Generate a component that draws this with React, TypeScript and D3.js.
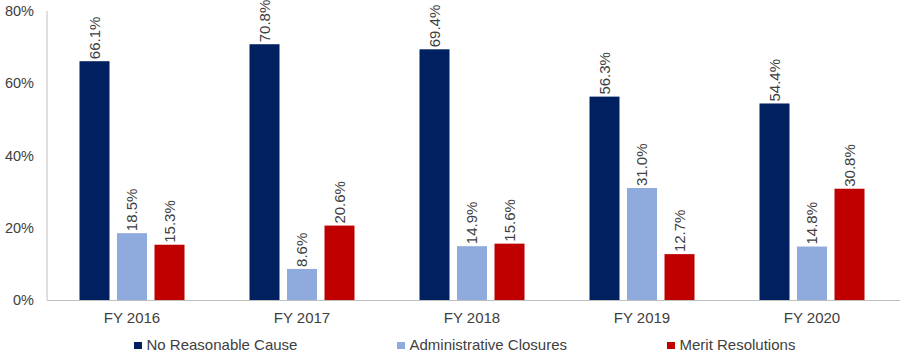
import React from "react";
import * as d3 from "d3";

const categories = ["FY 2016", "FY 2017", "FY 2018", "FY 2019", "FY 2020"];
const seriesNames = ["No Reasonable Cause", "Administrative Closures", "Merit Resolutions"];
const noReasonableCause = [66.1, 70.8, 69.4, 56.3, 54.4];
const administrativeClosures = [18.5, 8.6, 14.9, 31.0, 14.8];
const meritResolutions = [15.3, 20.6, 15.6, 12.7, 30.8];
const yTicks = [0, 20, 40, 60, 80];
const colors = ["#002060", "#8FAADC", "#C00000"];

const W = 900;
const H = 363;
const left = 47;
const right = 897;
const top = 11;
const bottom = 300;
const FONT = "'Liberation Sans', Arial, sans-serif";

export default function App() {
  const seriesValues = [noReasonableCause, administrativeClosures, meritResolutions];
  const x0 = d3.scaleBand<string>().domain(categories).range([left, right]).padding(0);
  const groupW = 105;
  const x1 = d3.scaleBand<string>().domain(seriesNames).range([0, groupW]).paddingInner(0.2).paddingOuter(0);
  const y = d3.scaleLinear().domain([0, 80]).range([bottom, top]);

  const legendX = [134, 397, 667];

  return (
    <svg width={W} height={H} style={{ position: "absolute", left: 0, top: 0, background: "#fff" }} fontFamily={FONT}>
      <line x1={left} x2={left} y1={top} y2={bottom} stroke="#BFBFBF" strokeWidth={1} />
      <line x1={left} x2={W} y1={bottom + 0.5} y2={bottom + 0.5} stroke="#BFBFBF" strokeWidth={1} />
      {yTicks.map((t) => (
        <text key={t} x={34} y={y(t)} dy="0.35em" textAnchor="end" fontSize={14.5} fill="#404040">
          {t}%
        </text>
      ))}
      {categories.map((c, i) => {
        const gx = (x0(c) as number) + x0.bandwidth() / 2 - groupW / 2;
        return (
          <g key={c}>
            {seriesNames.map((s, j) => {
              const v = seriesValues[j][i];
              const bx = gx + (x1(s) as number);
              const bw = x1.bandwidth();
              const by = y(v);
              const cx = bx + bw / 2;
              return (
                <g key={s}>
                  <rect x={bx} y={by} width={bw} height={bottom - by} fill={colors[j]} />
                  <text
                    transform={`translate(${cx},${by - 2}) rotate(-90)`}
                    dy="0.35em"
                    textAnchor="start"
                    fontSize={15}
                    fill="#404040"
                  >
                    {v.toFixed(1)}%
                  </text>
                </g>
              );
            })}
            <text x={(x0(c) as number) + x0.bandwidth() / 2} y={323} textAnchor="middle" fontSize={15} fill="#404040">
              {c}
            </text>
          </g>
        );
      })}
      {seriesNames.map((s, j) => (
        <g key={s}>
          <rect x={legendX[j]} y={342} width={8} height={7} fill={colors[j]} />
          <text x={legendX[j] + 12.5} y={350} fontSize={15} fill="#404040">
            {s}
          </text>
        </g>
      ))}
    </svg>
  );
}
